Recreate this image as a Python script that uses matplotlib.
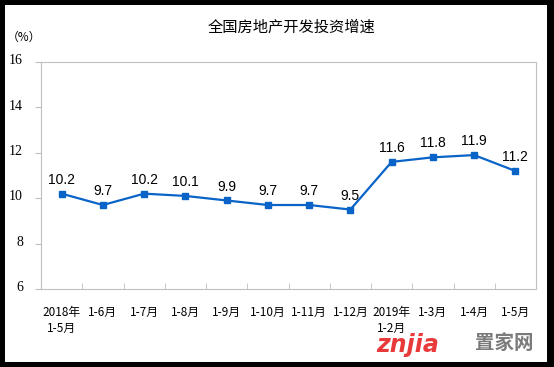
import matplotlib.pyplot as plt
import matplotlib.transforms as mtransforms
from matplotlib.patches import Rectangle

months = ['2018年\n1-5月', '1-6月', '1-7月', '1-8月', '1-9月', '1-10月',
          '1-11月', '1-12月', '2019年\n1-2月', '1-3月', '1-4月', '1-5月']
growth = [10.2, 9.7, 10.2, 10.1, 9.9, 9.7, 9.7, 9.5, 11.6, 11.8, 11.9, 11.2]
yticks = [6, 8, 10, 12, 14, 16]

plt.rcParams['font.family'] = ['Noto Sans CJK SC', 'DejaVu Sans']

fig = plt.figure(figsize=(5.54, 3.67), dpi=100)
fig.patch.set_facecolor('black')
# white panel inside the black frame
fig.add_artist(Rectangle((5 / 554, 5 / 367), 542 / 554, 357 / 367,
                         transform=fig.transFigure, facecolor='white',
                         edgecolor='none', zorder=-1))

ax = fig.add_axes([41 / 554, 1 - 289 / 367, 495 / 554, 227 / 367])
x = list(range(len(months)))
ax.plot(x, growth, color='#0a64c8', linewidth=1.6, marker='s', markersize=4.5)
for xi, v in zip(x, growth):
    ax.annotate(f'{v:.1f}', (xi, v), xytext=(0, 10), textcoords='offset points',
                ha='center', va='center', fontsize=10, family='Liberation Sans')

ax.set_xlim(-0.5, len(months) - 0.5)
ax.set_ylim(6, 16)
ax.set_yticks(yticks)
ax.set_yticklabels([str(t) for t in yticks], family='Liberation Serif', fontsize=10)
ax.tick_params(axis='y', direction='out', length=4, color='#bfbfbf', pad=9)
shift = mtransforms.ScaledTranslation(0, 2 / 72, fig.dpi_scale_trans)
for lab in ax.get_yticklabels():
    lab.set_transform(lab.get_transform() + shift)

ax.set_xticks(x)
ax.set_xticklabels(months, fontsize=8.5, linespacing=1.3)
ax.set_xticks([i + 0.5 for i in x[:-1]], minor=True)
ax.tick_params(axis='x', which='major', length=0, pad=12)
ax.tick_params(axis='x', which='minor', direction='in', length=4, color='#bfbfbf')

for s in ax.spines.values():
    s.set_color('#bfbfbf')

fig.text(292 / 554, 1 - 27 / 367, '全国房地产开发投资增速', ha='center', va='center', fontsize=11)
fig.text(24 / 554, 1 - 37 / 367, '（%）', ha='center', va='center', fontsize=8.5)

# watermark
fig.text(376 / 554, 1 - 345 / 367, 'znjia', color='#e83a3a', fontsize=17,
         fontweight='bold', style='italic', family='DejaVu Sans', va='center')
fig.text(475 / 554, 1 - 343 / 367, '置家网', color='#7a7a7a', fontsize=14,
         fontweight='bold', va='center')

fig.savefig('out.png', dpi=100, facecolor=fig.get_facecolor())
